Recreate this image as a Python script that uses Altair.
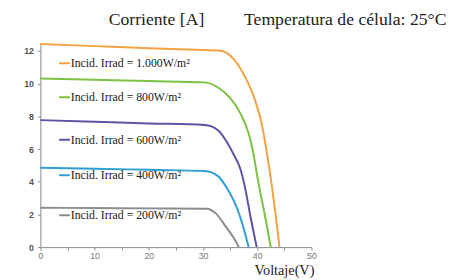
import altair as alt
import pandas as pd

series = ["1000", "800", "600", "400", "200"]
colors = ["#F2A341", "#7BC143", "#5B53A3", "#2F9FD3", "#8C8C8C"]

v_1000 = [0, 10, 20, 30, 33.0, 35.7, 37.8, 39.6, 40.8, 41.6, 42.6, 43.4, 44.1]
i_1000 = [12.43, 12.30, 12.17, 12.06, 12.03, 11.49, 10.38, 8.98, 7.57, 6.10, 3.96, 1.95, 0]
v_800 = [0, 10, 20, 30.3, 32.7, 35.1, 36.9, 38.4, 39.2, 40.2, 41.4, 42.5]
i_800 = [10.32, 10.24, 10.16, 10.08, 9.78, 9.08, 8.17, 6.97, 5.87, 3.96, 1.95, 0]
v_600 = [0, 10, 20, 30.3, 32.7, 34.5, 35.6, 36.9, 37.8, 38.7, 39.9]
i_600 = [7.77, 7.67, 7.57, 7.47, 7.17, 6.37, 5.70, 4.76, 3.55, 1.95, 0]
v_400 = [0, 10, 20, 30.3, 32.7, 34.5, 36.3, 37.5, 38.4]
i_400 = [4.86, 4.80, 4.73, 4.66, 4.36, 3.55, 2.35, 1.14, 0]
v_200 = [0, 10, 20, 30.6, 32.4, 34.2, 35.7, 36.6]
i_200 = [2.41, 2.39, 2.37, 2.35, 2.05, 1.25, 0.54, 0]

label_texts = [
    "Incid. Irrad = 1.000W/m\u00b2",
    "Incid. Irrad = 800W/m\u00b2",
    "Incid. Irrad = 600W/m\u00b2",
    "Incid. Irrad = 400W/m\u00b2",
    "Incid. Irrad = 200W/m\u00b2",
]
label_i = [11.25, 9.17, 6.57, 4.40, 1.95]
seg_v0 = [3.45] * 5
seg_v1 = [5.45] * 5
text_v = [5.6] * 5

x_ticks = [0, 5, 10, 15, 20, 25, 30, 35, 40, 45, 50]
y_ticks = [0, 2, 4, 6, 8, 10, 12]

curves = [(v_1000, i_1000), (v_800, i_800), (v_600, i_600), (v_400, i_400), (v_200, i_200)]
rows = []
for s, (vs, is_) in zip(series, curves):
    for v, i in zip(vs, is_):
        rows.append({"serie": s, "V": v, "I": i})
df = pd.DataFrame(rows)

lab = pd.DataFrame({
    "serie": series,
    "txt": label_texts,
    "I": label_i,
    "v0": seg_v0,
    "v1": seg_v1,
    "tv": text_v,
})

color_scale = alt.Scale(domain=series, range=colors)
x_scale = alt.Scale(domain=[0, 50], nice=False, zero=False)
y_scale = alt.Scale(domain=[0, 12.5], nice=False)

title_text = "Corriente [A]" + "\u00a0" * 9 + "Temperatura de célula: 25°C"

x_axis = alt.Axis(
    values=x_ticks,
    labelExpr="datum.value % 10 == 0 ? datum.label : ''",
    labelFlush=False,
    labelOverlap=False,
    grid=False,
    domainColor="#888888",
    tickColor="#888888",
    tickSize=3,
    labelFont="Liberation Sans",
    labelFontSize=9,
    labelColor="#777777",
    labelPadding=2,
    title="Voltaje(V)",
    titleFont="Liberation Serif",
    titleFontSize=14.5,
    titleFontWeight="normal",
    titleColor="#222222",
    titleX=248,
    titleY=28,
    titleAlign="center",
    titleBaseline="alphabetic",
)
y_axis = alt.Axis(
    values=y_ticks,
    labelOverlap=False,
    labelBound=False,
    grid=False,
    domainColor="#888888",
    tickColor="#888888",
    tickSize=3,
    labelFont="Liberation Sans",
    labelFontSize=9,
    labelFontWeight="bold",
    labelColor="#555555",
    labelPadding=4,
    title=title_text,
    titleFont="Liberation Serif",
    titleFontSize=18,
    titleFontWeight="normal",
    titleColor="#222222",
    titleAngle=0,
    titleAlign="left",
    titleBaseline="alphabetic",
    titleX=69,
    titleY=-19,
)

lines = alt.Chart(df).mark_line(strokeWidth=2, interpolate="monotone").encode(
    x=alt.X("V:Q", scale=x_scale, axis=x_axis),
    y=alt.Y("I:Q", scale=y_scale, axis=y_axis),
    color=alt.Color("serie:N", scale=color_scale, legend=None),
    detail="serie:N",
)

segs = alt.Chart(lab).mark_rule(strokeWidth=2).encode(
    x=alt.X("v0:Q", scale=x_scale, axis=x_axis),
    x2="v1:Q",
    y=alt.Y("I:Q", scale=y_scale, axis=y_axis),
    color=alt.Color("serie:N", scale=color_scale, legend=None),
)

texts = alt.Chart(lab).mark_text(
    align="left", baseline="middle", font="Liberation Serif", fontSize=12, color="#1a1a1a"
).encode(
    x=alt.X("tv:Q", scale=x_scale, axis=x_axis),
    y=alt.Y("I:Q", scale=y_scale, axis=y_axis),
    text="txt:N",
)

chart = alt.layer(lines, segs, texts).properties(
    width=276,
    height=208,
    autosize=alt.AutoSizeParams(type="none"),
    padding={"left": 33, "top": 33, "right": 139, "bottom": 31},
    background="white",
).configure_view(stroke=None).configure_axisY(labelOverlap=False)

chart.save("out.html", embed_options={"renderer": "svg", "actions": False})
